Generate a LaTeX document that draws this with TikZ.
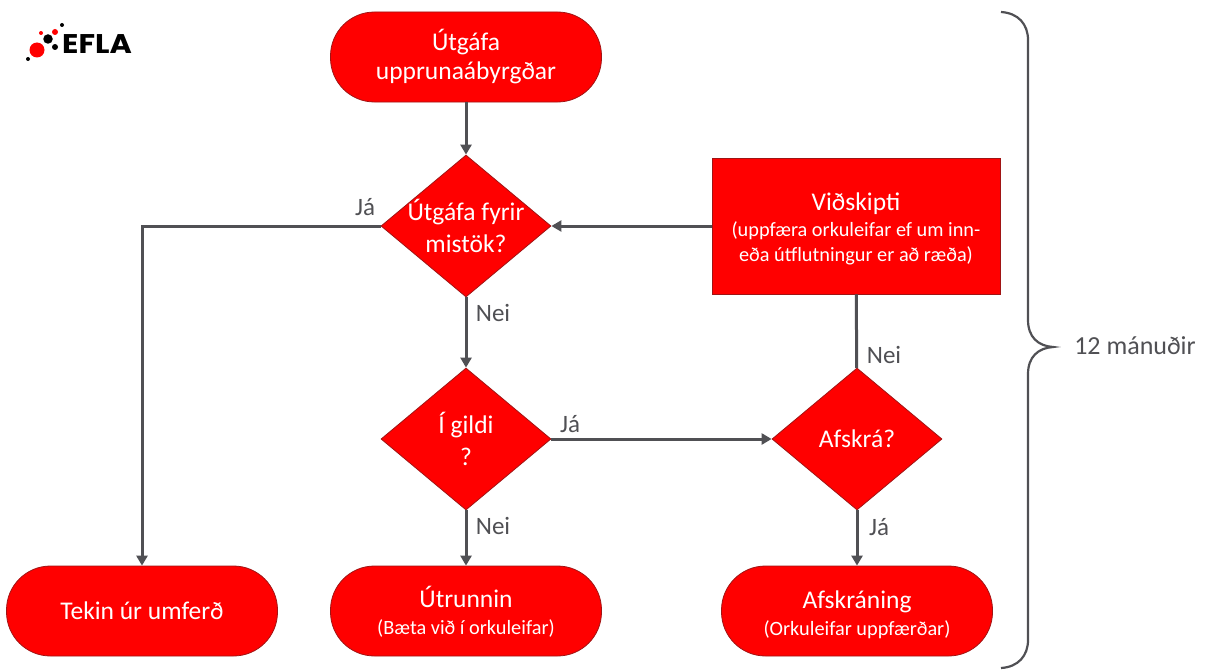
\documentclass[tikz,border=0pt]{standalone}
\usepackage{fontspec}
\setmainfont{Carlito}
\usetikzlibrary{shapes.geometric,arrows.meta,positioning}
\definecolor{eflared}{RGB}{255,0,0}
\definecolor{edgered}{RGB}{160,20,20}
\definecolor{linegrey}{RGB}{80,80,84}
\newcommand{\subline}[1]{{\fontsize{20.3}{24}\selectfont #1}}
\begin{document}
\begin{tikzpicture}[x=1pt, y=-1pt,
  term/.style = {draw=edgered, line width=0.8pt, fill=eflared, text=white, rounded corners=44pt, minimum width=271pt, minimum height=90pt, align=center, font=\fontsize{25.5}{29}\selectfont},
  box/.style = {draw=edgered, line width=0.8pt, fill=eflared, text=white, minimum width=288pt, minimum height=136pt, align=center, font=\fontsize{25.5}{29}\selectfont},
  dec/.style = {draw=edgered, line width=0.8pt, fill=eflared, text=white, diamond, aspect=1.2, inner sep=-12pt, minimum width=170pt, minimum height=142pt, align=center, font=\fontsize{25.5}{29}\selectfont},
  link/.style = {draw=linegrey, line width=3pt},
  arr/.style = {link, -{Triangle[length=10pt,width=11pt]}},
  lab/.style = {text=linegrey, inner sep=0pt, font=\fontsize{25}{29}\selectfont},
  dot/.style = {circle, inner sep=0pt}]
\useasboundingbox (0,0) rectangle (1206,669);

\node[term] (start) at (466,57) {Útgáfa\\upprunaábyrgðar};
\node[dec] (mistake) [below of=start, node distance=169pt] {Útgáfa fyrir\\[3pt]mistök?};
\node[dec] (valid) [below of=mistake, node distance=213pt] {Í gildi\\[3pt]?};
\node[term] (expired) [below of=valid, node distance=172pt] {\rule{0pt}{23pt}Útrunnin\\[-2pt]\subline{(Bæta við í orkuleifar)}};
\node[term] (withdrawn) [left of=expired, node distance=324pt] {Tekin úr umferð};
\node[box] (trade) [right of=mistake, node distance=390pt] {\rule{0pt}{24pt}Viðskipti\\[-3pt]\subline{(uppfæra orkuleifar ef um inn-}\\[-4pt]\subline{eða útflutningur er að ræða)}};
\node[dec] (delist) [right of=valid, node distance=391pt] {Afskrá?};
\node[term] (delisted) [below of=delist, node distance=172pt] {\rule{0pt}{25pt}Afskráning\\[-2pt]\subline{(Orkuleifar uppfærðar)}};

\draw[arr] (start) -- (mistake);
\draw[arr] (mistake) -- (valid);
\draw[arr] (valid) -- (expired);
\draw[arr] (mistake) -| (withdrawn);
\draw[arr] (trade) -- (mistake);
\draw[arr] (valid) -- (delist);
\draw[link] (trade) -- (delist);
\draw[arr] (delist) -- (delisted);

\node[lab] (yes1) at (365,207) {Já};
\node[lab] (no1) at (493,313) {Nei};
\node[lab] (yes2) at (570,424) {Já};
\node[lab] (no2) at (493,526) {Nei};
\node[lab] (no3) at (884,355) {Nei};
\node[lab] (yes3) at (879,527) {Já};

% brace
\draw[draw=linegrey, line width=2.2pt] (1001,12) .. controls (1018,13) and (1028,24) .. (1028,40)
  -- (1028,320) .. controls (1028,337) and (1038,346) .. (1053,347)
  .. controls (1038,348) and (1028,357) .. (1028,374)
  -- (1028,640) .. controls (1028,656) and (1018,667) .. (1001,668);
\node[lab, font=\fontsize{26}{30}\selectfont] (months) at (1135,346) {12 mánuðir};

% logo
\node[dot, fill=eflared, minimum size=15pt] (d1) at (37,50) {};
\node[dot, fill=black, minimum size=9.5pt] (d2) at (48,39) {};
\node[dot, fill=black, minimum size=6pt] (d3) at (55,47) {};
\node[dot, fill=eflared, minimum size=6pt] (d4) at (55,32) {};
\node[dot, fill=eflared, minimum size=4pt] (d5) at (41,33) {};
\node[dot, fill=black, minimum size=4pt] (d6) at (62,25) {};
\node[dot, fill=black, minimum size=4pt] (d7) at (28,59) {};
\node[inner sep=0pt, xscale=1.12, font=\fontsize{27}{27}\selectfont\fontspec{Poppins}\bfseries] (logo) at (97,44) {EFLA};
\end{tikzpicture}
\end{document}
